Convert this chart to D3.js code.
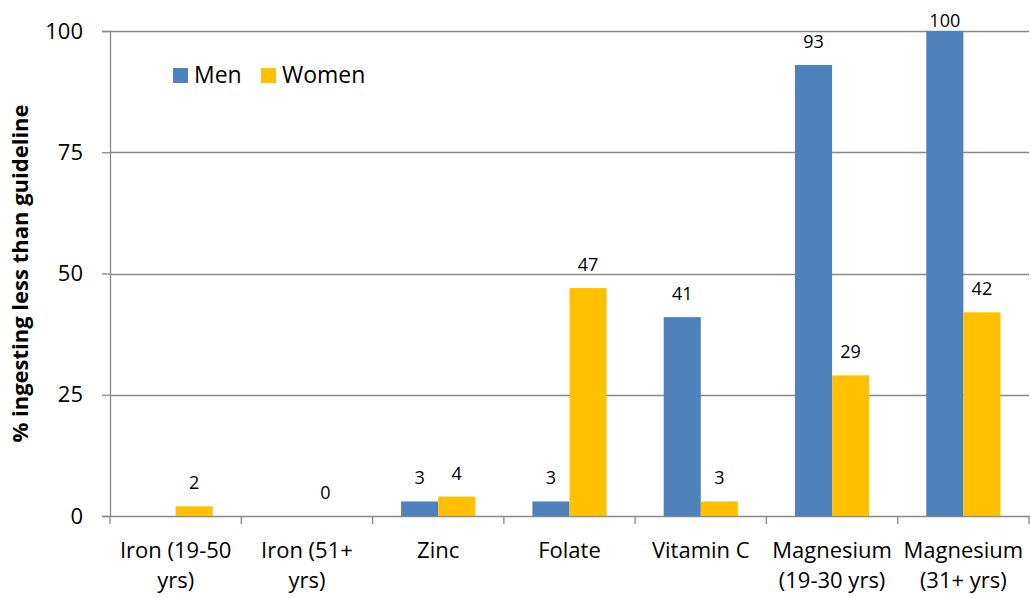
<!DOCTYPE html>
<html>
<head>
<meta charset="utf-8">
<script src="https://cdn.jsdelivr.net/npm/d3@7"></script>
<style>
  body { margin: 0; background: #fff; }
  text { font-family: "Open Sans", "Noto Sans", sans-serif; fill: #000; }
</style>
</head>
<body>
<svg id="chart"></svg>
<script>
// Chart data
const categories = ["Iron (19-50 yrs)", "Iron (51+ yrs)", "Zinc", "Folate", "Vitamin C", "Magnesium (19-30 yrs)", "Magnesium (31+ yrs)"];
const categoryLines = [["Iron (19-50", "yrs)"], ["Iron (51+", "yrs)"], ["Zinc"], ["Folate"], ["Vitamin C"], ["Magnesium", "(19-30 yrs)"], ["Magnesium", "(31+ yrs)"]];
const seriesNames = ["Men", "Women"];
const menValues = [null, null, 3, 3, 41, 93, 100];
const womenValues = [2, 0, 4, 47, 3, 29, 42];
const yTicks = [0, 25, 50, 75, 100];

const colours = { Men: "#4F81BD", Women: "#FFC000" };
const gridColour = "#898989";

const width = 1031, height = 598;
const margin = { top: 31, right: 2, bottom: 82, left: 110 };

const svg = d3.select("#chart").attr("width", width).attr("height", height);

const x = d3.scaleBand()
  .domain(categories)
  .range([margin.left, width - margin.right])
  .paddingInner(0)
  .paddingOuter(0);

// bars are ~37px wide inside a ~131px category
const xInner = d3.scaleBand()
  .domain(seriesNames)
  .range([0, x.bandwidth()])
  .paddingOuter(0.77)
  .paddingInner(0);

const y = d3.scaleLinear()
  .domain([0, 100])
  .range([height - margin.bottom, margin.top]);

// Gridlines
svg.append("g")
  .selectAll("line")
  .data(yTicks.filter(d => d > 0))
  .join("line")
  .attr("x1", margin.left)
  .attr("x2", width - margin.right)
  .attr("y1", d => Math.round(y(d)) + 0.5)
  .attr("y2", d => Math.round(y(d)) + 0.5)
  .attr("stroke", gridColour)
  .attr("stroke-width", 1.3);

// Y axis
const yAxis = svg.append("g")
  .attr("transform", `translate(${margin.left},0)`)
  .call(d3.axisLeft(y).tickValues(yTicks).tickSize(8).tickPadding(19));
yAxis.select(".domain").attr("stroke", gridColour).attr("stroke-width", 1.3);
yAxis.selectAll(".tick line").attr("stroke", gridColour).attr("stroke-width", 1.3);
yAxis.selectAll(".tick text").attr("font-size", 22).attr("font-family", "Open Sans, sans-serif");

// X axis
const xAxis = svg.append("g")
  .attr("transform", `translate(0,${height - margin.bottom})`)
  .call(d3.axisBottom(x).tickSize(0).tickFormat(""));
xAxis.select(".domain").attr("stroke", gridColour).attr("stroke-width", 1.3);
xAxis.append("g")
  .selectAll("line")
  .data(categories.concat(["end"]))
  .join("line")
  .attr("x1", (d, i) => i < categories.length ? x(d) : x(categories[categories.length - 1]) + x.bandwidth())
  .attr("x2", (d, i) => i < categories.length ? x(d) : x(categories[categories.length - 1]) + x.bandwidth())
  .attr("y1", 0)
  .attr("y2", 8)
  .attr("stroke", gridColour)
  .attr("stroke-width", 1.3);

// Category labels (wrapped)
const catLabels = svg.append("g")
  .selectAll("text")
  .data(categories)
  .join("text")
  .attr("x", d => x(d) + x.bandwidth() / 2)
  .attr("y", height - margin.bottom + 42)
  .attr("text-anchor", "middle")
  .attr("font-size", 22);
catLabels.each(function (d, i) {
  d3.select(this).selectAll("tspan")
    .data(categoryLines[i])
    .join("tspan")
    .attr("x", x(d) + x.bandwidth() / 2)
    .attr("dy", (t, j) => j === 0 ? 0 : 30)
    .text(t => t);
});

// Bars
const rows = categories.map((c, i) => ({ category: c, Men: menValues[i], Women: womenValues[i] }));

const groups = svg.append("g")
  .selectAll("g")
  .data(rows)
  .join("g")
  .attr("transform", d => `translate(${x(d.category)},0)`);

const bars = groups.selectAll("g")
  .data(d => seriesNames.map(s => ({ key: s, value: d[s] })).filter(v => v.value !== null))
  .join("g");

bars.append("rect")
  .attr("x", d => xInner(d.key))
  .attr("width", xInner.bandwidth())
  .attr("y", d => y(d.value))
  .attr("height", d => y(0) - y(d.value))
  .attr("fill", d => colours[d.key]);

bars.append("text")
  .attr("x", d => xInner(d.key) + xInner.bandwidth() / 2)
  .attr("y", d => Math.max(y(d.value) - 17, 27))
  .attr("text-anchor", "middle")
  .attr("font-size", 18)
  .text(d => d.value);

// Y axis title
svg.append("text")
  .attr("transform", `translate(28,${(margin.top + height - margin.bottom) / 2}) rotate(-90)`)
  .attr("text-anchor", "middle")
  .attr("font-size", 22)
  .attr("font-weight", "bold")
  .text("% ingesting less than guideline");

// Legend
const legend = svg.append("g").attr("transform", "translate(173,68)");
const legendX = [0, 88];
seriesNames.forEach((s, i) => {
  legend.append("rect")
    .attr("x", legendX[i])
    .attr("y", 0)
    .attr("width", 15)
    .attr("height", 15)
    .attr("fill", colours[s]);
  legend.append("text")
    .attr("x", legendX[i] + 21)
    .attr("y", 15)
    .attr("font-size", 23)
    .text(s);
});
</script>
</body>
</html>
